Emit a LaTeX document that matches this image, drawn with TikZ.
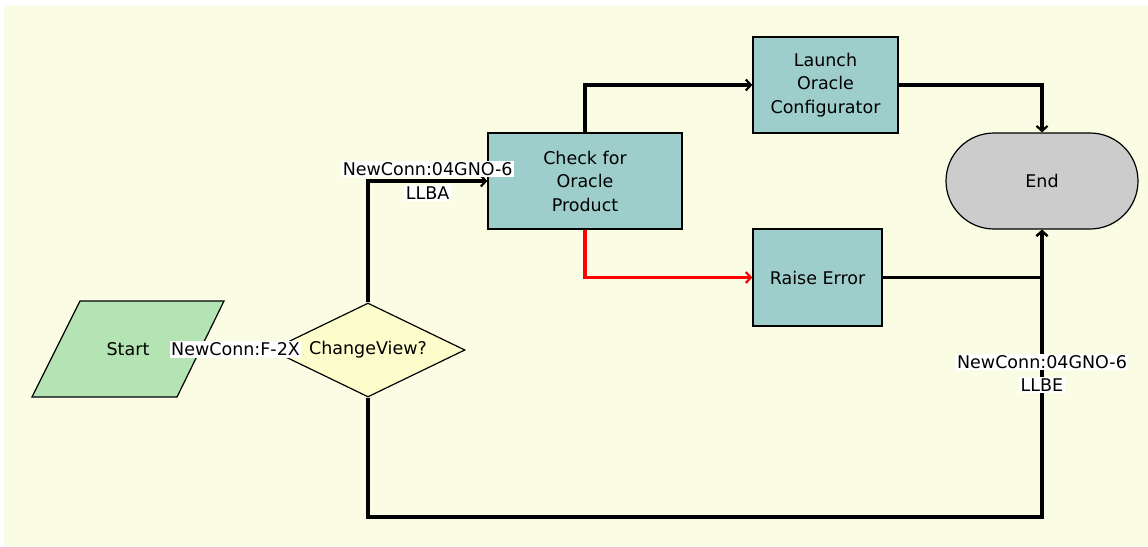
\documentclass[tikz,border=0pt]{standalone}
\usepackage{fontspec}
\setmainfont{DejaVu Sans}
\usetikzlibrary{arrows.meta,shapes.geometric,shapes.misc}
\definecolor{bgyellow}{RGB}{250,252,228}
\definecolor{boxteal}{RGB}{158,206,204}
\definecolor{startgreen}{RGB}{180,228,180}
\definecolor{diayellow}{RGB}{253,253,204}
\definecolor{endgray}{RGB}{204,204,204}
\newcommand{\wbox}[1]{{\setlength{\fboxsep}{1.5pt}\colorbox{white}{#1}}}
\tikzset{
  txt/.style={font=\fontsize{17.5}{23.5}\selectfont, align=center, text=black},
  taskbox/.style={txt, draw=black, line width=1.4pt, fill=boxteal, inner sep=0pt},
  conn/.style={line width=3.3pt, black, -{Straight Barb[length=5pt,width=11pt,line width=2.2pt]}},
  redconn/.style={conn, red},
  lbl/.style={txt, inner sep=0pt, fill=none},
}
\begin{document}
\begin{tikzpicture}[x=1pt,y=1pt]
\useasboundingbox (0,0) rectangle (1148,-546);
\fill[bgyellow] (4,-6) rectangle (1148,-546);
% Start parallelogram
\filldraw[fill=startgreen, draw=black, line width=1.2pt]
  (80,-301) -- (224,-301) -- (177,-397) -- (32,-397) -- cycle;
\node[txt, minimum width=145pt, minimum height=96pt, inner sep=0pt] (start) at (128,-349) {Start};
% Decision
\node[txt, diamond, draw=black, line width=1.2pt, fill=diayellow, minimum width=194pt, minimum height=94pt, inner sep=0pt, aspect=2] (dia) at (368,-350) {ChangeView?};
% Tasks
\node[taskbox, minimum width=194pt, minimum height=96pt] (check) at (585,-181) {Check for\\Oracle\\Product};
\node[taskbox, minimum width=145pt, minimum height=96pt] (launch) at (825.5,-85) {Launch\\Oracle\\Configurator};
\node[taskbox, minimum width=129pt, minimum height=97pt] (raise) at (817.5,-277.5) {Raise Error};
\node[txt, rounded rectangle, draw=black, line width=1.2pt, fill=endgray, minimum width=192pt, minimum height=96pt, inner sep=0pt] (end) at (1042,-181) {End};
\coordinate (lowturn) at (368,-517);
% Connectors
\draw[conn] (start.east) -- node[lbl] {\wbox{NewConn:F-2X}} (dia.west);
\draw[conn] (dia.north) |- node[lbl, pos=0.75] {\wbox{NewConn:04GNO-6}\\\wbox{LLBA}} (check.west);
\draw[conn] (check.north) |- (launch.west);
\draw[redconn] (check.south) |- (raise.west);
\draw[conn] (launch.east) -| (end.north);
\draw[conn] (raise.east) -| (end.south);
\draw[conn] (dia.south) -- (lowturn) -| node[lbl, pos=0.75] {\wbox{NewConn:04GNO-6}\\\wbox{LLBE}} (end.south);
\end{tikzpicture}
\end{document}
